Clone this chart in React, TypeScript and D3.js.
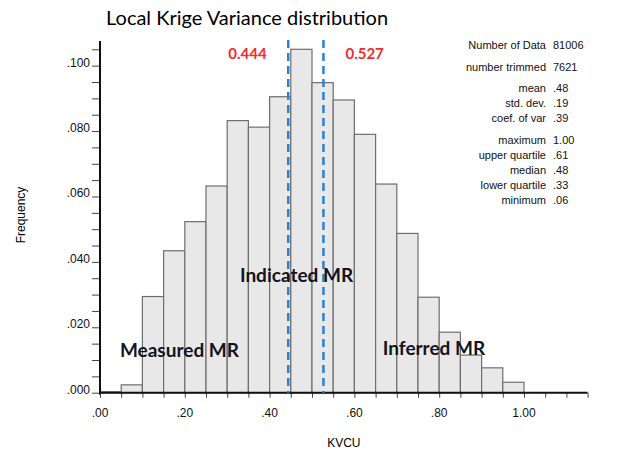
import React, { useRef, useEffect } from "react";
import * as d3 from "d3";

// histogram bins (lower edge) and frequencies
const binWidth = 0.05;
const binStarts = [0, 0.05, 0.1, 0.15, 0.2, 0.25, 0.3, 0.35, 0.4, 0.45, 0.5, 0.55, 0.6, 0.65, 0.7, 0.75, 0.8, 0.85, 0.9, 0.95];
const frequency = [0.0003, 0.0024, 0.0294, 0.0434, 0.0523, 0.0632, 0.0832, 0.0812, 0.0905, 0.105, 0.0948, 0.0895, 0.079, 0.0638, 0.0487, 0.0292, 0.0185, 0.0115, 0.0076, 0.0032];

const xLabelTicks = [0, 0.2, 0.4, 0.6, 0.8, 1.0];
const yLabelTicks = [0, 0.02, 0.04, 0.06, 0.08, 0.1];

// cut-off lines
const cutValues = [0.444, 0.527];
const cutLabels = ["0.444", "0.527"];

// class annotations: [x, y] in data units
const zoneNames = ["Measured MR", "Indicated MR", "Inferred MR"];
const zoneX = [0.047, 0.33, 0.667];
const zoneY = [0.011, 0.0338, 0.0114];

const statGroups = [
  [["Number of Data", "81006"], ["number trimmed", "7621"]],
  [["mean", ".48"], ["std. dev.", ".19"], ["coef. of var", ".39"]],
  [["maximum", "1.00"], ["upper quartile", ".61"], ["median", ".48"], ["lower quartile", ".33"], ["minimum", ".06"]],
];

const W = 623, H = 449;
const fmtTick = (d: number) => d3.format(".2f")(d).replace(/^0\./, ".");
const fmtY = (d: number) => d3.format(".3f")(d).replace(/^0\./, ".");

export default function App() {
  const ref = useRef<SVGSVGElement>(null);

  useEffect(() => {
    const svg = d3.select(ref.current);
    svg.selectAll("*").remove();

    const x = d3.scaleLinear().domain([0, 1.15]).range([100, 587.6]);
    const y = d3.scaleLinear().domain([0, 0.105]).range([392.7, 49.3]);

    svg.append("text")
      .attr("x", 106).attr("y", 25)
      .style("font-family", "Lato, 'Open Sans', sans-serif")
      .style("font-size", "20px")
      .text("Local Krige Variance distribution");

    // bars
    svg.append("g").selectAll("rect")
      .data(frequency)
      .join("rect")
      .attr("x", (d, i) => x(binStarts[i]))
      .attr("width", x(binWidth) - x(0))
      .attr("y", d => y(d))
      .attr("height", d => y(0) - y(d))
      .attr("fill", "#e8e8e8")
      .attr("stroke", "#6e6e6e")
      .attr("stroke-width", 1.2);

    // y axis
    const ya = svg.append("g").attr("transform", `translate(${x(0)},0)`);
    ya.call(d3.axisLeft(y).tickValues(d3.range(0, 0.1051, 0.005)).tickSize(8).tickFormat(() => ""));
    ya.select(".domain").remove();
    ya.selectAll("line").attr("stroke", "#444").attr("stroke-width", 1);
    ya.selectAll("text.lbl")
      .data(yLabelTicks)
      .join("text")
      .attr("class", "lbl")
      .attr("x", -10).attr("y", d => y(d) + 1)
      .attr("text-anchor", "end")
      .style("font-family", "'Liberation Sans', Arial, sans-serif")
      .style("font-size", "12px")
      .attr("fill", "#111")
      .text(fmtY);
    ya.append("line")
      .attr("y1", y(0) + 2).attr("y2", y(0.1075))
      .attr("stroke", "#111").attr("stroke-width", 2);

    // x axis
    const xa = svg.append("g").attr("transform", `translate(0,${y(0)})`);
    xa.call(d3.axisBottom(x).tickValues(d3.range(0, 1.151, 0.05)).tickSize(5).tickFormat(() => ""));
    xa.select(".domain").remove();
    xa.selectAll("line").attr("stroke", "#444").attr("stroke-width", 1);
    xa.append("line")
      .attr("x1", x(0) - 1).attr("x2", x(1.15))
      .attr("stroke", "#111").attr("stroke-width", 2);
    xa.selectAll("text.lbl")
      .data(xLabelTicks)
      .join("text")
      .attr("class", "lbl")
      .attr("x", d => x(d)).attr("y", 24)
      .attr("text-anchor", "middle")
      .style("font-family", "'Liberation Sans', Arial, sans-serif")
      .style("font-size", "12px")
      .attr("fill", "#111")
      .text(d => fmtTick(d));

    svg.append("text")
      .attr("x", x(0.575)).attr("y", 447)
      .attr("text-anchor", "middle")
      .style("font-family", "'Liberation Sans', Arial, sans-serif")
      .style("font-size", "12px")
      .text("KVCU");

    svg.append("text")
      .attr("transform", `translate(25,${215}) rotate(-90)`)
      .attr("text-anchor", "middle")
      .style("font-family", "'Liberation Sans', Arial, sans-serif")
      .style("font-size", "12px")
      .text("Frequency");

    // dashed cut-offs
    svg.append("g").selectAll("line")
      .data(cutValues)
      .join("line")
      .attr("x1", d => x(d)).attr("x2", d => x(d))
      .attr("y1", 40).attr("y2", y(0))
      .attr("stroke", "#2a82d0")
      .attr("stroke-width", 2.5)
      .attr("stroke-dasharray", "8,5");

    svg.append("g").selectAll("text")
      .data(cutLabels)
      .join("text")
      .attr("x", (d, i) => x(cutValues[i]) + (i === 0 ? -60 : 22))
      .attr("y", 59)
      .style("font-family", "Lato, 'Open Sans', sans-serif")
      .style("font-weight", "bold")
      .style("font-size", "15px")
      .attr("fill", "#f52b2b")
      .text(d => d);

    // zone annotations
    svg.append("g").selectAll("text")
      .data(zoneNames)
      .join("text")
      .attr("x", (d, i) => x(zoneX[i]))
      .attr("y", (d, i) => y(zoneY[i]))
      .style("font-family", "Lato, 'Open Sans', sans-serif")
      .style("font-weight", "bold")
      .style("font-size", "19px")
      .attr("fill", "#141420")
      .text(d => d);

    // stats box
    const st = svg.append("g")
      .style("font-family", "'Liberation Sans', Arial, sans-serif")
      .style("font-size", "11px")
      .attr("fill", "#111");
    let yy = 49;
    statGroups.forEach((g, gi) => {
      g.forEach(([k, v]) => {
        st.append("text").attr("x", 546).attr("y", yy).attr("text-anchor", "end").text(k);
        st.append("text").attr("x", 553).attr("y", yy).text(v);
        yy += gi === 0 ? 22 : 15;
      });
      yy += gi === 0 ? -1 : 7;
    });
  }, []);

  return <svg ref={ref} width={W} height={H} style={{ position: "absolute", left: 0, top: 0, background: "#fff" }} />;
}
